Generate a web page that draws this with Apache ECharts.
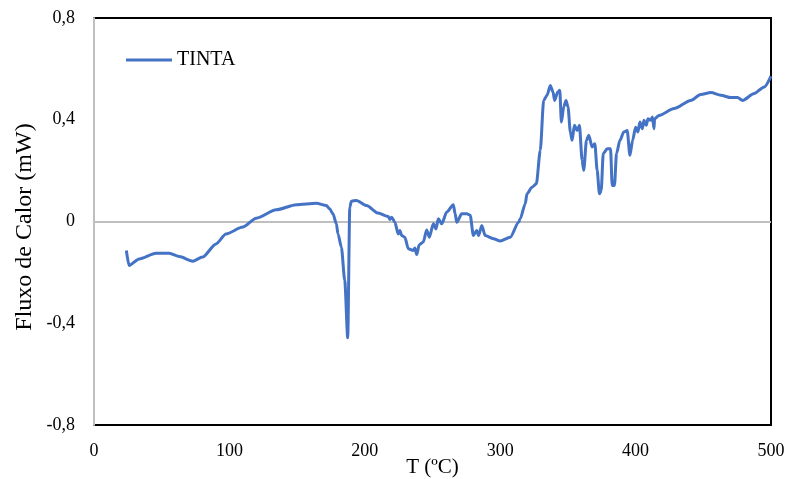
<!DOCTYPE html>
<html><head><meta charset="utf-8">
<script src="https://cdn.jsdelivr.net/npm/echarts@6/dist/echarts.min.js"></script>
<style>html,body{margin:0;padding:0;background:#fff}#c{width:787px;height:479px}</style>
</head><body><div id="c"></div>
<script>
const temperatures = [23.9,25.9,33.3,45.7,55.6,63,72.8,80.2,90.1,97.5,109.9,119.8,134.6,149.4,164.2,171.6,174,176.5,179,180.2,182.7,185.2,187.4,188.9,190.1,193.8,201.2,209.9,217.3,218.5,219.8,222.2,224.7,225.9,227.2,229.6,232.1,235.8,237,238.3,240.2,243.2,245.7,247.7,250.6,252.6,254.3,256.8,260.5,265.4,266.7,267.9,271.6,275.3,277.8,280.2,282.7,284,286.4,288.9,295,300,307.4,313.6,314.8,318.5,319.8,323.5,326.7,329.6,332.1,334.6,337,339,340.2,342.5,344,345.2,346.9,348.6,350.1,351.8,353.1,354.8,356.8,358.5,360.5,361.7,363.7,365.4,367.9,369.9,371.6,373.3,374.6,376.1,379,381.5,382.7,384.4,385.9,388.4,391.3,393.8,395.8,397.8,400,401.7,403.2,405,406.2,407.9,409.1,411,412.4,413.6,414,417.3,428.4,440.7,448.1,455.6,463,470.4,475.3,479,487.6,495,500];
const heatFlow = [-0.114,-0.173,-0.147,-0.125,-0.125,-0.138,-0.156,-0.14,-0.088,-0.049,-0.022,0.013,0.046,0.066,0.072,0.063,0.05,0.03,-0.009,-0.049,-0.101,-0.232,-0.457,0.056,0.08,0.083,0.063,0.033,0.02,0.008,0.017,-0.003,-0.049,-0.035,-0.055,-0.062,-0.107,-0.114,-0.104,-0.13,-0.091,-0.081,-0.033,-0.062,-0.009,-0.029,0.011,-0.009,0.037,0.066,0.03,-0.003,0.03,0.03,0.025,-0.055,-0.035,-0.055,-0.016,-0.055,-0.068,-0.077,-0.062,-0.003,0.011,0.07,0.109,0.135,0.148,0.28,0.476,0.496,0.535,0.509,0.476,0.509,0.516,0.391,0.45,0.476,0.45,0.352,0.319,0.378,0.358,0.378,0.24,0.201,0.319,0.339,0.293,0.306,0.201,0.109,0.122,0.267,0.286,0.286,0.142,0.142,0.267,0.319,0.352,0.358,0.26,0.319,0.371,0.352,0.391,0.365,0.398,0.378,0.404,0.398,0.411,0.365,0.404,0.417,0.444,0.476,0.499,0.507,0.496,0.487,0.487,0.476,0.503,0.529,0.571];
const seriesName = 'TINTA';
const xTicks = [0,100,200,300,400,500];
const yTicks = [-0.8,-0.4,0,0.4,0.8];

const chart = echarts.init(document.getElementById('c'));
const font = '"Liberation Serif","Times New Roman",serif';
chart.setOption({
  animation:false,
  backgroundColor:'#fff',
  grid:{left:94,right:16,top:18,bottom:54,outerBoundsMode:'none',containLabel:false,
    show:true,borderColor:'#000',borderWidth:2,backgroundColor:'transparent'},
  legend:{left:121,top:45,icon:'rect',itemWidth:46,itemHeight:3,itemGap:5,
    textStyle:{fontFamily:font,fontSize:20,color:'#000'},data:[seriesName]},
  xAxis:{type:'value',min:xTicks[0],max:xTicks[xTicks.length-1],interval:100,
    axisLine:{show:false},axisTick:{show:false},splitLine:{show:false},
    axisLabel:{fontFamily:font,fontSize:18,color:'#000',margin:17},
    name:'T (ºC)',nameLocation:'middle',nameGap:32,nameMoveOverlap:false,
    nameTextStyle:{fontFamily:font,fontSize:21,color:'#000'}},
  yAxis:{type:'value',min:yTicks[0],max:yTicks[yTicks.length-1],interval:0.4,
    axisLine:{show:true,onZero:false,lineStyle:{color:'#bfbfbf',width:2}},axisTick:{show:false},splitLine:{show:false},
    axisLabel:{fontFamily:font,fontSize:18,color:'#000',margin:19,
      formatter:v=>{const r=Math.round(v*10)/10; return r===0?'0':String(r).replace('.',',');}}},
  graphic:[{type:'text',x:25,y:227,rotation:Math.PI/2,
    style:{text:'Fluxo de Calor (mW)',font:'24px '+font,fill:'#000',align:'center',verticalAlign:'middle',textAlign:'center',textVerticalAlign:'middle'}}],
  series:[{name:seriesName,type:'line',showSymbol:false,symbol:'none',smooth:0.25,smoothMonotone:'x',
    lineStyle:{color:'#4472C4',width:3},itemStyle:{color:'#4472C4'},
    data:temperatures.map((t,i)=>[t,heatFlow[i]]),
    markLine:{silent:true,symbol:'none',label:{show:false},lineStyle:{color:'#bfbfbf',width:2,type:'solid'},data:[{yAxis:0}],z:1}
  }]
});
</script></body></html>
